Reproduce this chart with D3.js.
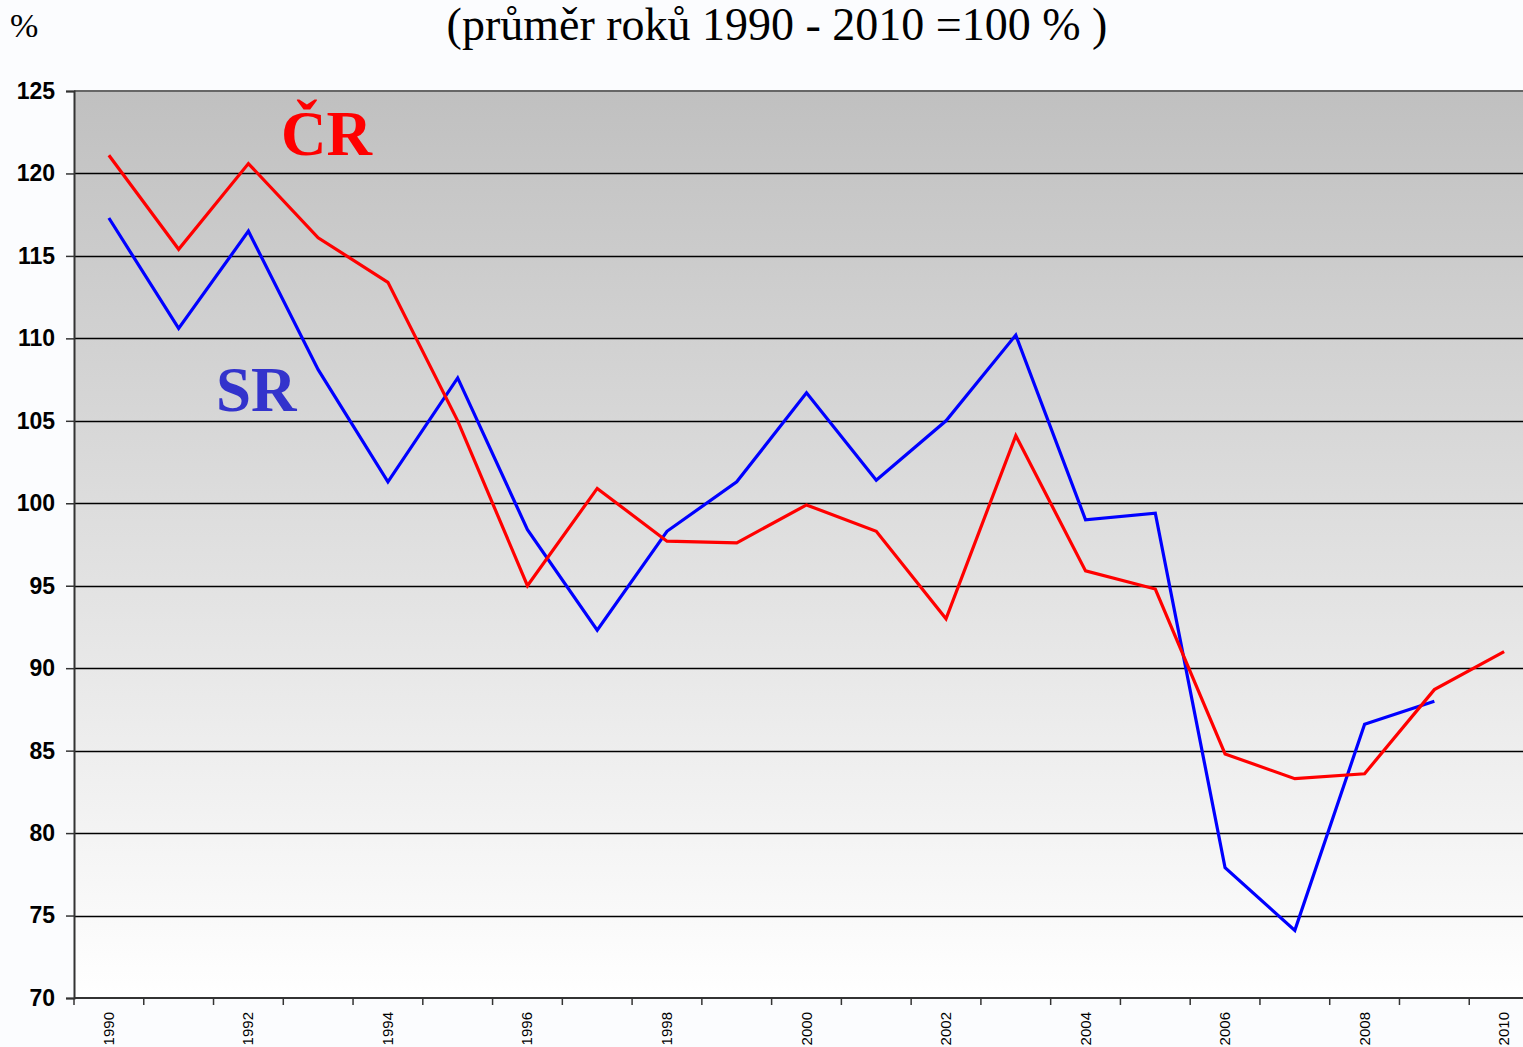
<!DOCTYPE html>
<html>
<head>
<meta charset="utf-8">
<script src="https://cdn.jsdelivr.net/npm/d3@7"></script>
<style>
	html, body { margin: 0; padding: 0; background: #fbfcfe; }
	svg { display: block; }
</style>
</head>
<body>
<div id="chart"></div>
<script>
// data
var years = [1990, 1991, 1992, 1993, 1994, 1995, 1996, 1997, 1998, 1999, 2000,
	2001, 2002, 2003, 2004, 2005, 2006, 2007, 2008, 2009, 2010];
var cr = [121.1, 115.4, 120.6, 116.1, 113.4, 105.0, 95.0, 100.9, 97.7, 97.6, 99.9,
	98.3, 93.0, 104.1, 95.9, 94.8, 84.8, 83.3, 83.6, 88.7, 91.0];
var sr = [117.3, 110.6, 116.5, 108.1, 101.3, 107.6, 98.4, 92.3, 98.3, 101.3, 106.7,
	101.4, 105.0, 110.2, 99.0, 99.4, 77.9, 74.1, 86.6, 88.0, null];
var yTicks = [70, 75, 80, 85, 90, 95, 100, 105, 110, 115, 120, 125];
var xLabels = [1990, 1992, 1994, 1996, 1998, 2000, 2002, 2004, 2006, 2008, 2010];

var chart_width = 1523, chart_height = 1047;
var plot_left = 74, plot_top = 91, plot_w = 1465, plot_h = 907;

var svg = d3.select("#chart")
	.append("svg")
		.attr("width", chart_width)
		.attr("height", chart_height);

var x = d3.scaleBand()
	.domain(years)
	.range([plot_left, plot_left + plot_w]);

var y = d3.scaleLinear()
	.domain([70, 125])
	.range([plot_top + plot_h, plot_top]);

// plot background gradient
var grad = svg.append("defs").append("linearGradient")
	.attr("id", "bg")
	.attr("x1", 0).attr("y1", 0).attr("x2", 0).attr("y2", 1);
grad.append("stop").attr("offset", "0%").attr("stop-color", "#c0c0c0");
grad.append("stop").attr("offset", "100%").attr("stop-color", "#ffffff");

svg.append("rect")
	.attr("x", plot_left)
	.attr("y", plot_top)
	.attr("width", plot_w)
	.attr("height", plot_h)
	.attr("fill", "url(#bg)");

// gridlines
svg.selectAll("line.grid")
	.data(yTicks.filter(function(d) { return d > 70 && d < 125; }))
	.enter()
	.append("line")
	.attr("class", "grid")
	.attr("x1", plot_left)
	.attr("x2", plot_left + plot_w)
	.attr("y1", function(d) { return Math.round(y(d)) + 0.5; })
	.attr("y2", function(d) { return Math.round(y(d)) + 0.5; })
	.attr("stroke", "#000")
	.attr("stroke-width", 1.3);

// top border
svg.append("line")
	.attr("x1", plot_left).attr("x2", plot_left + plot_w)
	.attr("y1", y(125)).attr("y2", y(125))
	.attr("stroke", "#666").attr("stroke-width", 2);

// y axis
var yAxis = svg.append("g")
	.attr("transform", "translate(" + plot_left + ",0)")
	.call(d3.axisLeft(y).tickValues(yTicks).tickSize(8).tickPadding(11));
yAxis.select(".domain").attr("stroke", "#333").attr("stroke-width", 2);
yAxis.selectAll(".tick line").attr("stroke", "#333").attr("stroke-width", 1.5);
yAxis.selectAll(".tick text")
	.attr("font-family", "Liberation Sans, Arial, sans-serif")
	.attr("font-weight", "bold")
	.attr("font-size", 23)
	.attr("fill", "#000");

// x axis: ticks at band edges
var xAxis = svg.append("g")
	.attr("transform", "translate(0," + (plot_top + plot_h) + ")");
xAxis.append("line")
	.attr("x1", plot_left).attr("x2", plot_left + plot_w)
	.attr("y1", 0).attr("y2", 0)
	.attr("stroke", "#333").attr("stroke-width", 2);
xAxis.selectAll("line.tick")
	.data(years)
	.enter()
	.append("line")
	.attr("class", "tick")
	.attr("x1", function(d) { return x(d); })
	.attr("x2", function(d) { return x(d); })
	.attr("y1", 0).attr("y2", 7)
	.attr("stroke", "#333").attr("stroke-width", 1.5);
xAxis.selectAll("text")
	.data(xLabels)
	.enter()
	.append("text")
	.text(function(d) { return d; })
	.attr("transform", function(d) {
		return "translate(" + (x(d) + x.bandwidth() / 2 + 5) + ",14) rotate(-90)";
	})
	.attr("text-anchor", "end")
	.attr("font-family", "Liberation Sans, Arial, sans-serif")
	.attr("font-size", 15)
	.attr("fill", "#000");

// lines
var line = d3.line()
	.defined(function(d) { return d.v != null; })
	.x(function(d) { return x(d.year) + x.bandwidth() / 2; })
	.y(function(d) { return y(d.v); });

function series(vals) {
	return years.map(function(yr, i) { return { year: yr, v: vals[i] }; });
}

svg.append("path")
	.datum(series(sr))
	.attr("d", line)
	.attr("fill", "none")
	.attr("stroke", "#0000ff")
	.attr("stroke-width", 3.2);

svg.append("path")
	.datum(series(cr))
	.attr("d", line)
	.attr("fill", "none")
	.attr("stroke", "#ff0000")
	.attr("stroke-width", 3.2);

// series labels
svg.append("text")
	.text("ČR")
	.attr("x", 281)
	.attr("y", 155)
	.attr("font-family", "Liberation Serif, Times New Roman, serif")
	.attr("font-weight", "bold")
	.attr("font-size", 63)
	.attr("fill", "#ff0000");

svg.append("text")
	.text("SR")
	.attr("x", 216)
	.attr("y", 411)
	.attr("font-family", "Liberation Serif, Times New Roman, serif")
	.attr("font-weight", "bold")
	.attr("font-size", 63)
	.attr("fill", "#3333cc");

// titles
svg.append("text")
	.text("%")
	.attr("x", 10)
	.attr("y", 37)
	.attr("font-family", "Liberation Serif, Times New Roman, serif")
	.attr("font-size", 34)
	.attr("fill", "#000");

svg.append("text")
	.text("(průměr roků 1990 - 2010 =100 % )")
	.attr("x", 777)
	.attr("y", 40)
	.attr("text-anchor", "middle")
	.attr("font-family", "Liberation Serif, Times New Roman, serif")
	.attr("font-size", 46)
	.attr("fill", "#000");
</script>
</body>
</html>
